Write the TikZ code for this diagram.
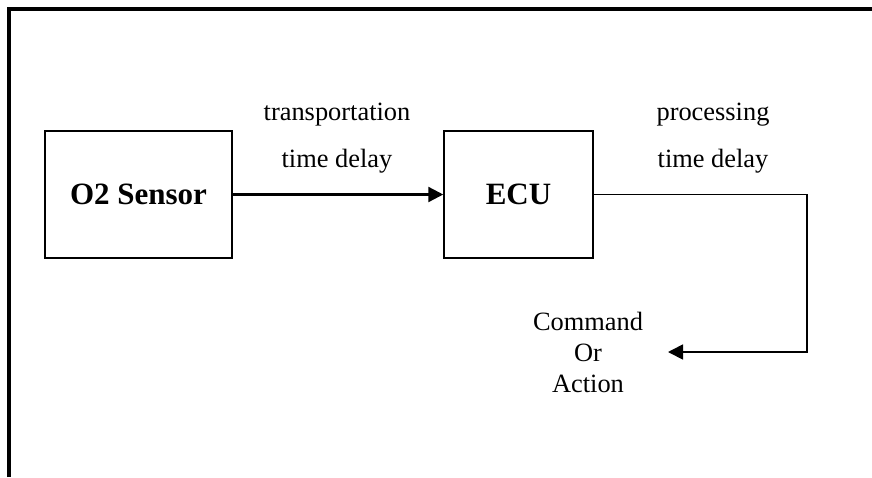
\documentclass[tikz,border=0pt]{standalone}
\usepackage{fontspec}
\setmainfont{Liberation Serif}
\usetikzlibrary{arrows.meta}
\begin{document}
\begin{tikzpicture}[x=1pt, y=-1pt,
  blk/.style={draw, line width=1.5pt, inner sep=0pt, minimum height=127pt,
    font=\fontsize{31}{36}\selectfont\bfseries},
  lbl/.style={inner sep=0pt, anchor=base, font=\fontsize{26.4}{31}\selectfont},
  tip/.style={-{Triangle[length=15pt, width=15pt]}}]
\useasboundingbox (0,0) rectangle (872,477);
% open frame: top and left edges only
\draw[line width=3.8pt] (8.8,477) -- (8.8,8.6) -- (872,8.6);

% blocks
\node[blk, minimum width=187pt] (sensor) at (138.5,194.5) {O2 Sensor};
\node[blk, minimum width=149pt] (ecu) at (518.5,194.5) {ECU};

% delay labels
\node[lbl] (tr1) at (337,120.7) {transportation};
\node[lbl] (tr2) at (337,167) {time delay};
\node[lbl] (pr1) at (713,120.7) {processing};
\node[lbl] (pr2) at (713,167) {time delay};

% output
\node[inner sep=0pt, align=center, font=\fontsize{26.4}{31}\selectfont] (cmd) at (588,352) {Command\\Or\\Action};
\coordinate (act) at (668,352);
\coordinate (turn) at (807,194.5);

% connectors
\draw[tip, line width=2.3pt] (sensor.east) -- (ecu.west);
\draw[tip, line width=1.8pt] (ecu.east) -- (turn) |- (act);
\end{tikzpicture}
\end{document}
